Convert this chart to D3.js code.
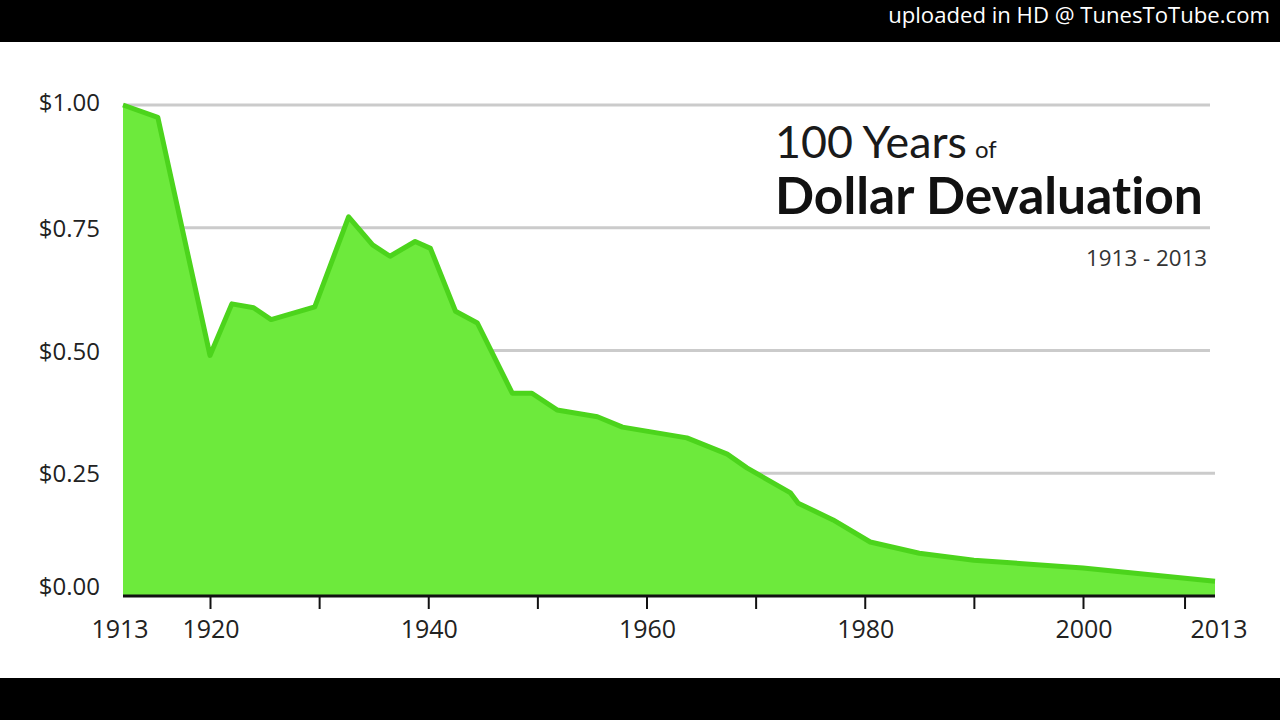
<!DOCTYPE html>
<html>
<head>
<meta charset="utf-8">
<script src="https://cdn.jsdelivr.net/npm/d3@7"></script>
<style>
  html, body { margin: 0; padding: 0; background: #fff; }
  svg { display: block; }
  text { font-family: "Open Sans", "DejaVu Sans", sans-serif; }
  .title { font-family: Lato, "Open Sans", sans-serif; font-variant-ligatures: none; font-feature-settings: "liga" 0; }
</style>
</head>
<body>
<svg id="chart" width="1280" height="720"></svg>
<script>
// ---- data ----
const years  = [1913, 1915.8, 1920, 1922, 1924, 1925.6, 1929.6, 1932.7, 1934.9, 1936.5, 1938.8, 1940.2,
                1942.5, 1944.5, 1947.7, 1949.5, 1951.8, 1955.5, 1957.8, 1963.7, 1967.4, 1969.2,
                1973.2, 1973.9, 1977.1, 1980.5, 1985, 1990, 2000, 2013];
const values = [1.00, 0.975, 0.49, 0.595, 0.587, 0.563, 0.589, 0.772, 0.715, 0.692, 0.722, 0.708,
                0.58, 0.556, 0.413, 0.413, 0.379, 0.365, 0.344, 0.322, 0.289, 0.261,
                0.21, 0.189, 0.155, 0.110, 0.087, 0.073, 0.057, 0.030];
const yTicks = [0, 0.25, 0.5, 0.75, 1.0];
const xTicks = [1920, 1930, 1940, 1950, 1960, 1970, 1980, 1990, 2000, 2010];
const xLabels = [1913, 1920, 1940, 1960, 1980, 2000, 2013];
const titleLine1 = "100 Years";
const titleOf = "of";
const titleLine2 = "Dollar Devaluation";
const subtitle = "1913 - 2013";
const watermark = "uploaded in HD @ TunesToTube.com";

const data = years.map((yr, i) => ({ year: yr, value: values[i] }));

const svg = d3.select("#chart");

// scales (source chart's x-axis is slightly non-uniform -> polylinear scale)
const x = d3.scaleLinear().domain([1913, 1920, 2000, 2013]).range([123, 210, 1083, 1215]);
const y = d3.scaleLinear().domain([0, 1]).range([596, 105]);

// black letterbox bars
svg.append("rect").attr("x", 0).attr("y", 0).attr("width", 1280).attr("height", 42).attr("fill", "#000");
svg.append("rect").attr("x", 0).attr("y", 678).attr("width", 1280).attr("height", 42).attr("fill", "#000");

// watermark
const wm = svg.append("text")
  .attr("x", 1270).attr("y", 23)
  .attr("text-anchor", "end")
  .attr("fill", "#fff")
  .attr("font-size", 21)
  .text(watermark);
fitWidth(wm, 382, 21);

// gridlines
svg.append("g")
  .selectAll("line")
  .data(yTicks.filter(d => d > 0))
  .join("line")
  .attr("x1", x(1913))
  .attr("x2", d => d === 0.25 ? 1215 : 1210)
  .attr("y1", d => y(d))
  .attr("y2", d => y(d))
  .attr("stroke", "#cbcbcb")
  .attr("stroke-width", 3);

// area
const area = d3.area()
  .x(d => x(d.year))
  .y0(y(0))
  .y1(d => y(d.value));
svg.append("path")
  .datum(data)
  .attr("d", area)
  .attr("fill", "#6dea3c");

const line = d3.line()
  .x(d => x(d.year))
  .y(d => y(d.value));
svg.append("path")
  .datum(data)
  .attr("d", line)
  .attr("fill", "none")
  .attr("stroke", "#4cd41c")
  .attr("stroke-width", 5)
  .attr("stroke-linejoin", "round");

// x axis (ticks only)
const xAxis = d3.axisBottom(x)
  .tickValues(xTicks)
  .tickSize(13)
  .tickFormat("");
const gx = svg.append("g")
  .attr("transform", `translate(0,${y(0)})`)
  .call(xAxis);
gx.select(".domain")
  .attr("d", `M${x(1913)},0H${x(2013)}`)
  .attr("stroke", "#111")
  .attr("stroke-width", 3);
gx.selectAll(".tick line").attr("stroke", "#111").attr("stroke-width", 2);

// x labels
svg.append("g")
  .selectAll("text")
  .data(xLabels)
  .join("text")
  .attr("x", d => x(d) + (d === 1913 ? -3 : d === 2013 ? 4 : 1))
  .attr("y", 638)
  .attr("text-anchor", "middle")
  .attr("font-size", 25)
  .attr("fill", "#222")
  .text(d => d);

// y labels
const fmt = d3.format("$.2f");
svg.append("g")
  .selectAll("text")
  .data(yTicks)
  .join("text")
  .attr("x", 100)
  .attr("y", d => y(d) + (d === 0 ? -1 : d === 1 ? 6 : 9))
  .attr("text-anchor", "end")
  .attr("font-size", 24)
  .attr("fill", "#222")
  .text(d => fmt(d));

// title
const t1 = svg.append("text")
  .attr("class", "title")
  .attr("x", 775).attr("y", 158)
  .attr("fill", "#1a1a1a");
const t1a = t1.append("tspan").attr("font-size", 44).text(titleLine1);
{
  const w = t1a.node().getComputedTextLength();
  if (w > 0) t1a.attr("font-size", 44 * 192 / w);
}
t1.append("tspan").attr("font-size", 24).attr("dx", 8).text(titleOf);

const t2 = svg.append("text")
  .attr("class", "title")
  .attr("x", 775).attr("y", 214)
  .attr("font-size", 44)
  .attr("font-weight", "bold")
  .attr("fill", "#111")
  .text(titleLine2);
fitWidth(t2, 428, 44);

const sub = svg.append("text")
  .attr("x", 1207).attr("y", 266)
  .attr("text-anchor", "end")
  .attr("font-size", 21)
  .attr("fill", "#333")
  .text(subtitle);
fitWidth(sub, 121, 21);

function fitWidth(sel, target, base) {
  const w = sel.node().getComputedTextLength();
  if (w > 0) sel.attr("font-size", base * target / w);
}
</script>
</body>
</html>
